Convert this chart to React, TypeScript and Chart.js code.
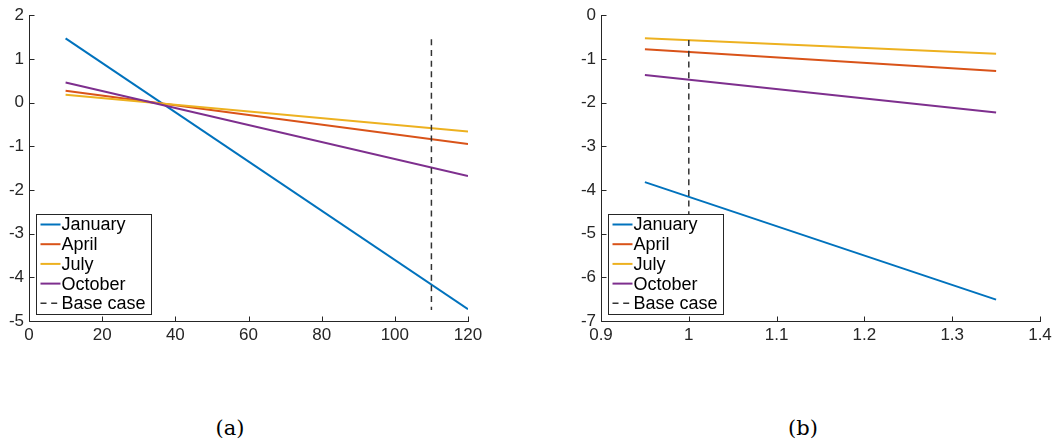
import React, { useEffect, useRef } from "react";
import { Chart, registerables } from "chart.js";

Chart.register(...registerables);

// ---------- data ----------
const seriesNames = ["January", "April", "July", "October"];
const baseLabel = "Base case";

// panel (a)
const xA = [10, 120];
const janA = [1.47, -4.73];
const aprA = [0.27, -0.95];
const julA = [0.18, -0.66];
const octA = [0.46, -1.68];
const baseXA = 110;
const baseYA = [1.45, -4.75];

// panel (b)
const xB = [0.95, 1.35];
const janB = [-3.82, -6.51];
const aprB = [-0.78, -1.28];
const julB = [-0.53, -0.88];
const octB = [-1.37, -2.23];
const baseXB = 1;
const baseYB = [-0.57, -6.5];

const colors = ["#0072BD", "#D95319", "#EDB120", "#7E2F8E"];
const AXIS = "#262626";
const FONT = "'Liberation Sans', Arial, sans-serif";

const pts = (xs: number[], ys: number[]) => xs.map((x, i) => ({ x, y: ys[i] }));

const fmt = (v: number) => String(Math.round(v * 1000) / 1000);

const axesPlugin = {
  id: "matlabAxes",
  afterDatasetsDraw(chart: any) {
    const { ctx, chartArea, scales } = chart;
    const L = Math.round(chartArea.left) + 0.5;
    const B = Math.round(chartArea.bottom) + 0.5;
    ctx.save();
    ctx.strokeStyle = AXIS;
    ctx.lineWidth = 1;
    ctx.setLineDash([]);
    ctx.beginPath();
    ctx.moveTo(L, Math.round(chartArea.top));
    ctx.lineTo(L, B);
    ctx.lineTo(Math.round(chartArea.right) + 1, B);
    scales.x.ticks.forEach((t: any) => {
      const px = Math.round(scales.x.getPixelForValue(t.value)) + 0.5;
      ctx.moveTo(px, B);
      ctx.lineTo(px, B - 5);
    });
    scales.y.ticks.forEach((t: any) => {
      const py = Math.round(scales.y.getPixelForValue(t.value)) + 0.5;
      ctx.moveTo(L, py);
      ctx.lineTo(L + 5, py);
    });
    ctx.stroke();
    ctx.restore();
  },
};

const legendPlugin = {
  id: "insideLegend",
  afterDraw(chart: any) {
    const { ctx, chartArea } = chart;
    const w = 115;
    const h = 100;
    const left = Math.round(chartArea.left) + 7 + 0.5;
    const top = Math.round(chartArea.bottom) - 7 - h + 0.5;
    ctx.save();
    ctx.fillStyle = "#ffffff";
    ctx.fillRect(left, top, w, h);
    ctx.strokeStyle = AXIS;
    ctx.lineWidth = 1;
    ctx.strokeRect(left, top, w, h);
    const ds = chart.data.datasets;
    ctx.font = `18px ${FONT}`;
    ctx.textBaseline = "middle";
    ctx.textAlign = "left";
    ds.forEach((d: any, i: number) => {
      const cy = top + 10 + i * 19.7;
      ctx.beginPath();
      ctx.strokeStyle = d.borderColor;
      ctx.lineWidth = d.borderWidth;
      ctx.setLineDash(d.borderDash || []);
      ctx.moveTo(left + 4, cy);
      ctx.lineTo(left + 24, cy);
      ctx.stroke();
      ctx.setLineDash([]);
      ctx.fillStyle = "#000000";
      ctx.fillText(d.label, left + 25, cy + 1);
    });
    ctx.restore();
  },
};

function makeConfig(
  xs: number[],
  ys: number[][],
  baseX: number,
  baseY: number[],
  xr: { min: number; max: number; step: number },
  yr: { min: number; max: number; step: number },
  yWidth: number,
  padRight: number
): any {
  const datasets: any[] = ys.map((y, i) => ({
    label: seriesNames[i],
    data: pts(xs, y),
    borderColor: colors[i],
    backgroundColor: colors[i],
    borderWidth: 2,
    pointRadius: 0,
    fill: false,
    order: 4 - i,
  }));
  datasets.push({
    label: baseLabel,
    data: pts([baseX, baseX], baseY),
    borderColor: "#333333",
    backgroundColor: "#333333",
    borderWidth: 1.5,
    borderDash: [6, 4.7],
    pointRadius: 0,
    fill: false,
    order: 0,
  });
  const tickFont = { family: FONT, size: 17 };
  return {
    type: "line",
    data: { datasets },
    options: {
      animation: false,
      responsive: false,
      maintainAspectRatio: false,
      layout: { padding: { top: 12.7, right: padRight, left: 0, bottom: 0 } },
      plugins: { legend: { display: false }, tooltip: { enabled: false } },
      scales: {
        x: {
          type: "linear",
          min: xr.min,
          max: xr.max,
          grid: { display: false, drawTicks: false },
          border: { display: false },
          ticks: {
            stepSize: xr.step,
            color: AXIS,
            font: tickFont,
            padding: 4,
            maxRotation: 0,
            callback: (v: any) => fmt(Number(v)),
          },
          afterFit: (s: any) => {
            s.height = 24;
          },
        },
        y: {
          type: "linear",
          min: yr.min,
          max: yr.max,
          grid: { display: false, drawTicks: false },
          border: { display: false },
          ticks: {
            stepSize: yr.step,
            color: AXIS,
            font: tickFont,
            padding: 5,
            callback: (v: any) => fmt(Number(v)),
          },
          afterFit: (s: any) => {
            s.width = yWidth;
          },
        },
      },
    },
    plugins: [axesPlugin, legendPlugin],
  };
}

function Panel(props: { config: any; left: number; width: number; height: number }) {
  const ref = useRef<HTMLCanvasElement>(null);
  useEffect(() => {
    if (!ref.current) return;
    const c = new Chart(ref.current, props.config);
    return () => c.destroy();
  }, []);
  return (
    <canvas
      ref={ref}
      width={props.width}
      height={props.height}
      style={{ position: "absolute", left: props.left, top: 0, width: props.width, height: props.height }}
    />
  );
}

export default function App() {
  const cfgA = makeConfig(
    xA,
    [janA, aprA, julA, octA],
    baseXA,
    baseYA,
    { min: 0, max: 120, step: 20 },
    { min: -5, max: 2, step: 1 },
    29,
    32
  );
  const cfgB = makeConfig(
    xB,
    [janB, aprB, julB, octB],
    baseXB,
    baseYB,
    { min: 0.9, max: 1.4, step: 0.1 },
    { min: -7, max: 0, step: 1 },
    56,
    17
  );
  const capStyle: React.CSSProperties = {
    position: "absolute",
    top: 413,
    width: 60,
    textAlign: "center",
    fontFamily: "'DejaVu Serif', serif",
    fontSize: 21,
    lineHeight: "30px",
    color: "#000",
  };
  return (
    <div style={{ position: "absolute", left: 0, top: 0, width: 1057, height: 447, background: "#fff" }}>
      <Panel config={cfgA} left={0} width={500} height={345} />
      <Panel config={cfgB} left={545} width={512} height={345} />
      <div style={{ ...capStyle, left: 200 }}>(a)</div>
      <div style={{ ...capStyle, left: 773 }}>(b)</div>
    </div>
  );
}
